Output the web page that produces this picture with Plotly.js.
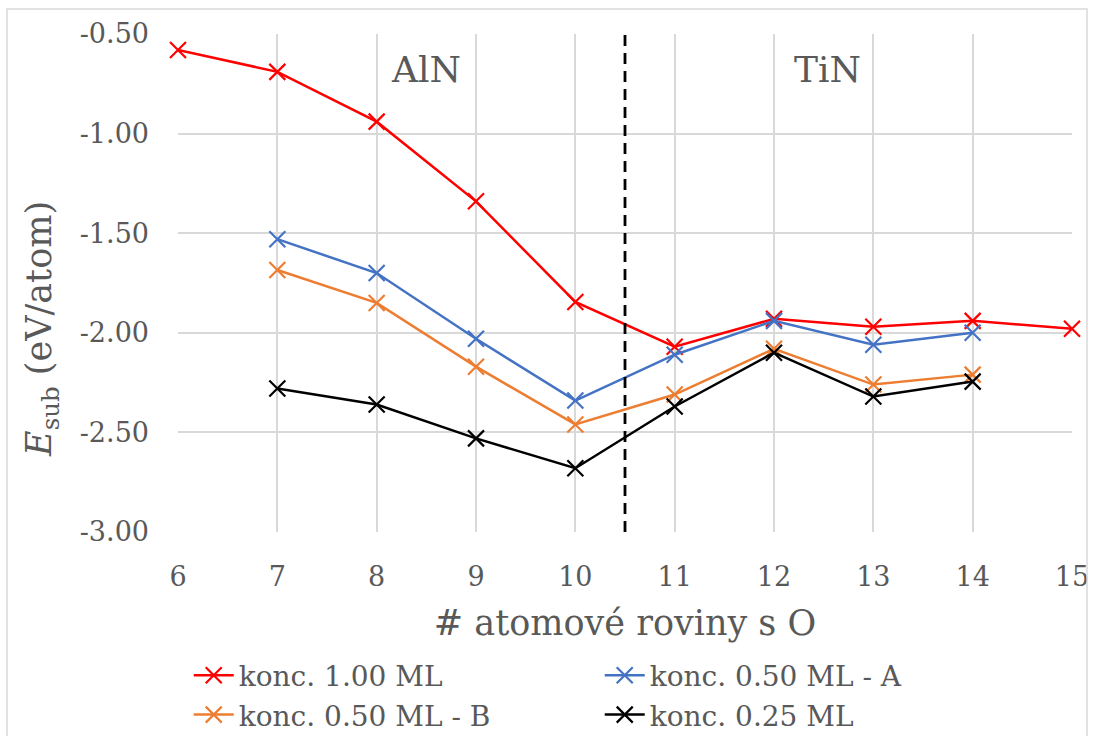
<!DOCTYPE html>
<html><head><meta charset="utf-8">
<script src="https://cdn.plot.ly/plotly-3.0.1.min.js"></script>
<style>body{margin:0;background:#fff}#c{width:1094px;height:736px}</style>
</head><body><div id="c"></div>
<script>
const planes = [6,7,8,9,10,11,12,13,14,15];
const planesShort = [7,8,9,10,11,12,13,14];
const conc100 = [-0.58,-0.69,-0.94,-1.34,-1.845,-2.07,-1.93,-1.97,-1.94,-1.98];
const conc050A = [-1.53,-1.70,-2.03,-2.34,-2.11,-1.94,-2.06,-2.00];
const conc050B = [-1.685,-1.85,-2.17,-2.46,-2.31,-2.08,-2.26,-2.21];
const conc025 = [-2.28,-2.36,-2.53,-2.68,-2.37,-2.10,-2.32,-2.245];
const names = ['konc. 1.00 ML','konc. 0.50 ML - A','konc. 0.50 ML - B','konc. 0.25 ML'];
const yTicks = [-3.0,-2.5,-2.0,-1.5,-1.0,-0.5];
const yTickText = ['-3.00','-2.50','-2.00','-1.50','-1.00','-0.50'];
const xTicks = [6,7,8,9,10,11,12,13,14,15];
const boundaryX = 10.5;
const regionLabels = ['AlN','TiN'];
const regionX = [8.5,12.54];
const regionY = -0.68;
const yTitle = '<i>E</i><sub>sub</sub> (eV/atom)';

const font = 'DejaVu Serif, Liberation Serif, serif';
function tr(x,y,name,color){
  return {x:x,y:y,name:name,type:'scatter',mode:'lines+markers',cliponaxis:false,
    line:{color:color,width:2.5},
    marker:{symbol:'x-thin',size:16,line:{color:color,width:2.2},color:color}};
}
const data=[tr(planes,conc100,names[0],'#FF0000'),tr(planesShort,conc050A,names[1],'#4472C4'),
  tr(planesShort,conc050B,names[2],'#ED7D31'),tr(planesShort,conc025,names[3],'#000000')];
const annots = regionLabels.map((t,i)=>({x:regionX[i],y:regionY,xref:'x',yref:'y',text:t,showarrow:false,font:{size:36,family:font,color:'#595959'}}));
annots.push({x:-0.152,y:0.408,xref:'paper',yref:'paper',text:yTitle,textangle:-90,showarrow:false,xanchor:'center',yanchor:'middle',font:{size:35,family:font,color:'#595959'}});
const layout={
  width:1094,height:736,margin:{l:178,r:22,t:34,b:204,autoexpand:false},
  paper_bgcolor:'#fff',plot_bgcolor:'#fff',showlegend:true,
  font:{family:font,color:'#595959'},
  xaxis:{range:[6,15],tickvals:xTicks,showgrid:true,gridcolor:'#d9d9d9',gridwidth:1.8,zeroline:false,showline:false,
    ticks:'',ticklabelstandoff:26,tickfont:{size:27,family:font,color:'#595959'},
    title:{text:'# atomové roviny s O',font:{size:35,family:font,color:'#595959'},standoff:19}},
  yaxis:{range:[-3,-0.5],tickvals:yTicks,ticktext:yTickText,showgrid:true,gridcolor:'#d9d9d9',gridwidth:1.8,zeroline:false,showline:false,
    ticks:'',ticklabelstandoff:28,tickfont:{size:27,family:font,color:'#595959'}},
  legend:{orientation:'h',x:0.012,xanchor:'left',y:-0.238,yanchor:'top',entrywidth:356,entrywidthmode:'pixels',
    font:{size:28,family:font,color:'#595959'},itemwidth:40,tracegroupgap:0},
  shapes:[{type:'line',xref:'x',yref:'paper',x0:boundaryX,x1:boundaryX,y0:0,y1:1,line:{color:'#000',width:2.8,dash:'11px,7px'}},
    {type:'rect',xref:'paper',yref:'paper',x0:-171/894,x1:1+15/894,y0:-210/498,y1:1+25/498,line:{color:'#d9d9d9',width:1.5}}],
  annotations:annots
};
Plotly.newPlot('c',data,layout,{displayModeBar:false});
</script></body></html>
